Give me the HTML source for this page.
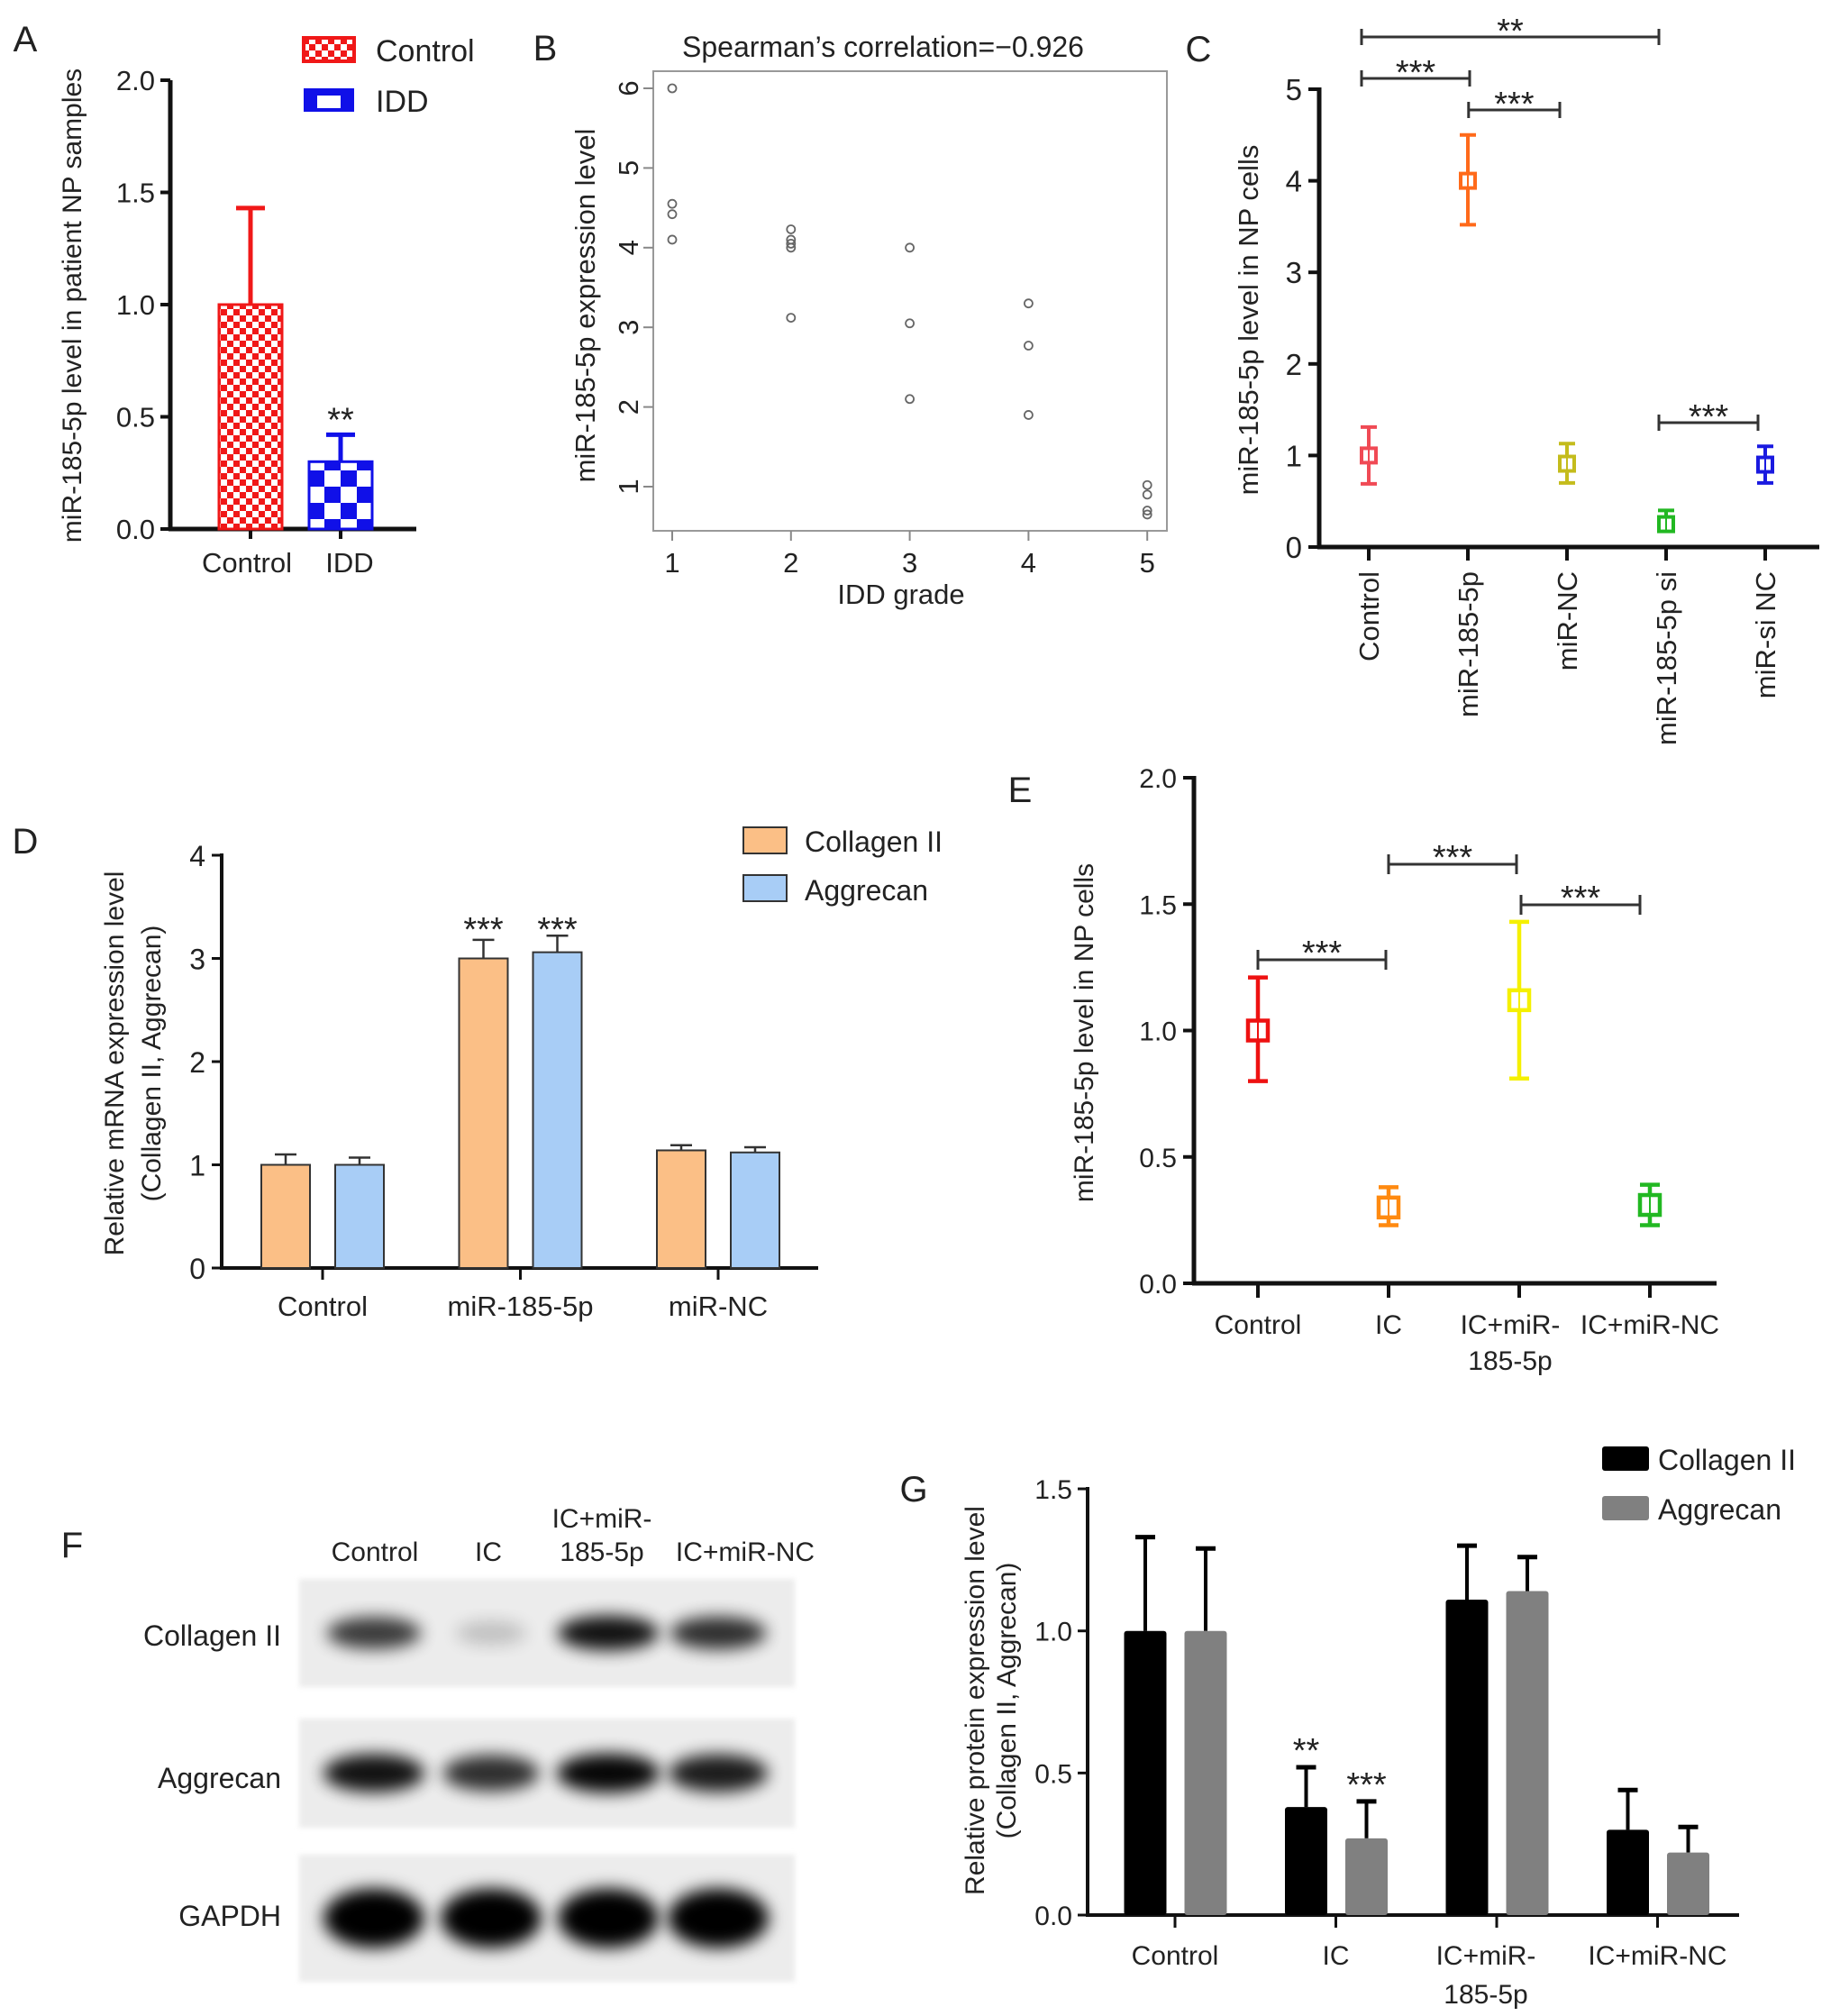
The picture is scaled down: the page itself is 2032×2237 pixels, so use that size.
<!DOCTYPE html>
<html><head><meta charset="utf-8"><title>miR-185-5p figure</title>
<style>
html,body{margin:0;padding:0;background:#fff;}
svg{display:block;font-family:"Liberation Sans",Arial,sans-serif;}
text{fill:#222;}
</style></head>
<body>
<svg id="fig" xmlns="http://www.w3.org/2000/svg" width="2032" height="2237" viewBox="0 0 2032 2237">
<defs>
<pattern id="chkRed" width="14" height="14" patternUnits="userSpaceOnUse">
<rect width="14" height="14" fill="#fff"/><rect width="7" height="7" fill="#f01818"/><rect x="7" y="7" width="7" height="7" fill="#f01818"/>
</pattern>
<pattern id="chkBlue" width="36" height="36" patternUnits="userSpaceOnUse">
<rect width="36" height="36" fill="#fff"/><rect width="18" height="18" fill="#1010e8"/><rect x="18" y="18" width="18" height="18" fill="#1010e8"/>
</pattern>
<filter id="blur" x="-50%" y="-50%" width="200%" height="200%"><feGaussianBlur stdDeviation="9"/></filter>
<filter id="blur2" x="-20%" y="-20%" width="140%" height="140%"><feGaussianBlur stdDeviation="3"/></filter>
</defs>
<g id="root"></g>
</svg>
<script>
// ---------- DATA ----------
// Panel A
const aCats = ["Control","IDD"];
const aVals = [1.0, 0.30];
const aErr = [1.43, 0.42];
const aTicks = ["0.0","0.5","1.0","1.5","2.0"];
// Panel B
const bGrades = [1,1,1,1,2,2,2,2,2,3,3,3,4,4,4,5,5,5,5];
const bLevels = [6.0,4.55,4.42,4.1,4.23,4.1,4.05,4.0,3.12,4.0,3.05,2.1,3.3,2.77,1.9,1.02,0.9,0.7,0.65];
const bXTicks = [1,2,3,4,5];
const bYTicks = [1,2,3,4,5,6];
// Panel C
const cCats = ["Control","miR-185-5p","miR-NC","miR-185-5p si","miR-si NC"];
const cVals = [1.0,4.0,0.91,0.25,0.9];
const cLow = [0.69,3.52,0.7,0.18,0.7];
const cHigh = [1.31,4.5,1.13,0.4,1.1];
const cColors = ["#f04a55","#ff6a1a","#c4bc1c","#22b822","#1a1ae0"];
const cTicks = [0,1,2,3,4,5];
// Panel D
const dCats = ["Control","miR-185-5p","miR-NC"];
const dCol = [1.0,3.0,1.14];
const dColErr = [1.1,3.18,1.19];
const dAgg = [1.0,3.06,1.12];
const dAggErr = [1.07,3.22,1.17];
const dTicks = [0,1,2,3,4];
// Panel E
const eCats = [["Control"],["IC"],["IC+miR-","185-5p"],["IC+miR-NC"]];
const eVals = [1.0,0.3,1.12,0.31];
const eLow = [0.8,0.23,0.81,0.23];
const eHigh = [1.21,0.38,1.43,0.39];
const eColors = ["#ee1111","#ff8a10","#f5f000","#22b822"];
const eTicks = ["0.0","0.5","1.0","1.5","2.0"];
// Panel F band intensities (0..1)
const fRows = ["Collagen II","Aggrecan","GAPDH"];
const fCollagen = [0.75,0.18,0.92,0.8];
const fAggrecan = [0.92,0.8,0.97,0.88];
const fGapdh = [1,1,1,1];
// Panel G
const gCats = [["Control"],["IC"],["IC+miR-","185-5p"],["IC+miR-NC"]];
const gCol = [1.0,0.38,1.11,0.30];
const gColErr = [1.33,0.52,1.30,0.44];
const gAgg = [1.0,0.27,1.14,0.22];
const gAggErr = [1.29,0.40,1.26,0.31];
const gTicks = ["0.0","0.5","1.0","1.5"];

// ---------- HELPERS ----------
const NS = "http://www.w3.org/2000/svg";
const root = document.getElementById("root");
function mk(tag, attrs, parent){
  const e = document.createElementNS(NS, tag);
  for (const k in attrs) e.setAttribute(k, attrs[k]);
  (parent||root).appendChild(e);
  return e;
}
function txt(s, x, y, size, anchor, parent, extra){
  const a = Object.assign({x:x, y:y, "font-size":size, "text-anchor":anchor||"middle"}, extra||{});
  const t = mk("text", a, parent);
  t.textContent = s;
  return t;
}
function grp(parent){ return mk("g", {}, parent); }

// ---------- PANEL A ----------
(function(){
  const g = grp();
  
  
  const y = v => 587 - v*249;
  const x = i => 278 + i*100;
  const lbl = txt("A", 28, 57, 40, "middle", g);
  
  
  const yt = txt("miR-185-5p level in patient NP samples", 0, 0, 30, "middle", g, {transform:"translate(90,339) rotate(-90)"});
  
  
  const ax = mk("path", {d:"M189 89 V589 M187 587 H462", stroke:"#111", "stroke-width":5, fill:"none"}, g);
  
  
  aTicks.forEach((t,i)=>{
    const v = parseFloat(t);
    mk("line", {x1:178, x2:189, y1:y(v), y2:y(v), stroke:"#111", "stroke-width":4}, g);
    const tl = txt(t, 172, y(v)+11, 31, "end", g);
    
    
  });
  const fills = ["url(#chkRed)","url(#chkBlue)"];
  const cols = ["#f01818","#1010e8"];
  aCats.forEach((c,i)=>{
    mk("line", {x1:x(i), x2:x(i), y1:y(aVals[i]), y2:y(aErr[i]), stroke:cols[i], "stroke-width":5}, g);
    mk("line", {x1:x(i)-16, x2:x(i)+16, y1:y(aErr[i]), y2:y(aErr[i]), stroke:cols[i], "stroke-width":5}, g);
    const b = mk("rect", {x:x(i)-35, y:y(aVals[i]), width:70, height:y(0)-y(aVals[i]), fill:fills[i], stroke:cols[i], "stroke-width":3}, g);
    
    
    mk("line", {x1:x(i), x2:x(i), y1:589, y2:598, stroke:"#111", "stroke-width":4}, g);
    const xl = txt(c, x(i)+(i===0?-4:10), 635, 31, "middle", g);
    
    
  });
  const st = txt("**", x(1), y(aErr[1])-4, 38, "middle", g);
  
  
  // legend
  const lg = grp(g);
  
  
  mk("rect", {x:337, y:42, width:56, height:26, fill:"url(#chkRed)", stroke:"#f01818", "stroke-width":4}, lg);
  mk("rect", {x:337, y:98, width:56, height:26, fill:"#1010e8"}, lg);
  mk("rect", {x:352, y:106, width:26, height:14, fill:"#fff"}, lg);
  const l1 = txt("Control", 417, 68, 34, "start", lg);
  
  
  const l2 = txt("IDD", 417, 124, 34, "start", lg);
  
  
})();

// ---------- PANEL B ----------
(function(){
  const g = grp();
  
  
  const x = v => 746 + (v-1)*131.8;
  const y = v => 540 - (v-1)*88.4;
  const lbl = txt("B", 605, 67, 40, "middle", g);
  
  
  const tt = txt("Spearman’s correlation=−0.926", 980, 63, 32, "middle", g);
  
  
  const bx = mk("rect", {x:725, y:79, width:570, height:510, fill:"none", stroke:"#999", "stroke-width":2}, g);
  
  
  bXTicks.forEach(t=>{
    mk("line", {x1:x(t), x2:x(t), y1:589, y2:600, stroke:"#888", "stroke-width":2}, g);
    const tl = txt(String(t), x(t), 635, 31, "middle", g);
    
    
  });
  bYTicks.forEach(t=>{
    mk("line", {x1:714, x2:725, y1:y(t), y2:y(t), stroke:"#888", "stroke-width":2}, g);
    const tl = txt(String(t), 0, 0, 31, "middle", g, {transform:`translate(708,${y(t)}) rotate(-90)`});
    
    
  });
  const xt = txt("IDD grade", 1000, 670, 31, "middle", g);
  
  
  const yt = txt("miR-185-5p expression level", 0, 0, 31, "middle", g, {transform:"translate(660,339) rotate(-90)"});
  
  
  bGrades.forEach((gr,i)=>{
    const p = mk("circle", {cx:x(gr), cy:y(bLevels[i]), r:4.5, fill:"none", stroke:"#666", "stroke-width":1.8}, g);
    
    
  });
})();

// ---------- PANEL C ----------
(function(){
  const g = grp();
  
  
  const y = v => 607 - v*101.6;
  const x = i => 1519 + i*110;
  const lbl = txt("C", 1330, 68, 40, "middle", g);
  
  
  const yt = txt("miR-185-5p level in NP cells", 0, 0, 31, "middle", g, {transform:"translate(1396,355) rotate(-90)"});
  
  
  const ax = mk("path", {d:"M1464 97 V609 M1462 607 H2019", stroke:"#111", "stroke-width":5, fill:"none"}, g);
  
  
  cTicks.forEach(t=>{
    mk("line", {x1:1452, x2:1464, y1:y(t), y2:y(t), stroke:"#111", "stroke-width":4}, g);
    const tl = txt(String(t), 1445, y(t)+12, 33, "end", g);
    
    
  });
  cCats.forEach((c,i)=>{
    mk("line", {x1:x(i), x2:x(i), y1:609, y2:622, stroke:"#111", "stroke-width":4}, g);
    const tl = txt(c, 0, 0, 31, "end", g, {transform:`translate(${x(i)+11},634) rotate(-90)`});
    
    
    const col = cColors[i];
    const eg = grp(g);
    
    
    mk("line", {x1:x(i), x2:x(i), y1:y(cLow[i]), y2:y(cHigh[i]), stroke:col, "stroke-width":4}, eg);
    mk("line", {x1:x(i)-9, x2:x(i)+9, y1:y(cLow[i]), y2:y(cLow[i]), stroke:col, "stroke-width":4}, eg);
    mk("line", {x1:x(i)-9, x2:x(i)+9, y1:y(cHigh[i]), y2:y(cHigh[i]), stroke:col, "stroke-width":4}, eg);
    mk("rect", {x:x(i)-8, y:y(cVals[i])-8, width:16, height:16, fill:"#fff", stroke:col, "stroke-width":4}, eg);
    mk("line", {x1:x(i), x2:x(i), y1:y(cVals[i])-8, y2:y(cVals[i])+8, stroke:col, "stroke-width":2}, eg);
  });
  const br = [[0,3,41,"**"],[0,1,87,"***"],[1.08,2,122,"***"],[3,4,469,"***"]];
  br.forEach(b=>{
    const x1 = x(b[0])-8, x2 = x(b[1])+(b[1]===1?2:-8);
    const bg = grp(g);
    
    
    mk("path", {d:`M${x1} ${b[2]-9} V${b[2]+9} M${x1} ${b[2]} H${x2} M${x2} ${b[2]-9} V${b[2]+9}`, stroke:"#333", "stroke-width":3, fill:"none"}, bg);
    txt(b[3], (x1+x2)/2, b[2]+6, 38, "middle", bg, {fill:"#444"});
  });
})();

// ---------- PANEL D ----------
(function(){
  const g = grp();
  
  
  const y = v => 1407 - v*114.5;
  const x = i => 358 + i*219.5;
  const lbl = txt("D", 28, 947, 40, "middle", g);
  
  
  const yt = txt("Relative mRNA expression level", 0, 0, 30, "middle", g, {transform:"translate(137,1180) rotate(-90)"});
  
  
  const yt2 = txt("(Collagen II,  Aggrecan)", 0, 0, 30, "middle", g, {transform:"translate(178,1180) rotate(-90)"});
  
  
  const ax = mk("path", {d:"M246 947 V1409 M244 1407 H908", stroke:"#111", "stroke-width":4, fill:"none"}, g);
  
  
  dTicks.forEach(t=>{
    mk("line", {x1:235, x2:246, y1:y(t), y2:y(t), stroke:"#111", "stroke-width":3}, g);
    const tl = txt(String(t), 228, y(t)+12, 32, "end", g);
    
    
  });
  dCats.forEach((c,i)=>{
    mk("line", {x1:x(i), x2:x(i), y1:1409, y2:1420, stroke:"#111", "stroke-width":3}, g);
    const tl = txt(c, x(i), 1460, 31, "middle", g);
    
    
    [[dCol,dColErr,-41,"#fbbf86","collagen"],[dAgg,dAggErr,41,"#a8cdf6","aggrecan"]].forEach(s=>{
      const cx = x(i)+s[2], v = s[0][i], e = s[1][i];
      mk("line", {x1:cx, x2:cx, y1:y(v), y2:y(e), stroke:"#333", "stroke-width":2.5}, g);
      mk("line", {x1:cx-12, x2:cx+12, y1:y(e), y2:y(e), stroke:"#333", "stroke-width":2.5}, g);
      const b = mk("rect", {x:cx-27, y:y(v), width:54, height:y(0)-y(v), fill:s[3], stroke:"#333", "stroke-width":2}, g);
      
      
    });
  });
  [x(1)-41, x(1)+41].forEach((cx,k)=>{
    const st = txt("***", cx, 1044, 38, "middle", g, {fill:"#444"});
    
    
  });
  const lg = grp(g);
  
  
  mk("rect", {x:825, y:918, width:48, height:29, fill:"#fbbf86", stroke:"#333", "stroke-width":2}, lg);
  mk("rect", {x:825, y:971, width:48, height:29, fill:"#a8cdf6", stroke:"#333", "stroke-width":2}, lg);
  const l1 = txt("Collagen II", 893, 945, 32, "start", lg);
  
  
  const l2 = txt("Aggrecan", 893, 999, 32, "start", lg);
  
  
})();

// ---------- PANEL E ----------
(function(){
  const g = grp();
  
  
  const y = v => 1424 - v*280.5;
  const x = i => 1396 + i*145;
  const lbl = txt("E", 1132, 890, 40, "middle", g);
  
  
  const yt = txt("miR-185-5p level in NP cells", 0, 0, 30, "middle", g, {transform:"translate(1213,1146) rotate(-90)"});
  
  
  const ax = mk("path", {d:"M1325 861 V1426 M1323 1424 H1905", stroke:"#111", "stroke-width":5, fill:"none"}, g);
  
  
  eTicks.forEach(t=>{
    const v = parseFloat(t);
    mk("line", {x1:1313, x2:1325, y1:y(v), y2:y(v), stroke:"#111", "stroke-width":4}, g);
    const tl = txt(t, 1306, y(v)+11, 30, "end", g);
    
    
  });
  eCats.forEach((c,i)=>{
    mk("line", {x1:x(i), x2:x(i), y1:1426, y2:1440, stroke:"#111", "stroke-width":4}, g);
    c.forEach((ln,k)=>{
      const tl = txt(ln, x(i)+(i===2?-10:0), 1480+k*40, 30, "middle", g);
      
      
    });
    const col = eColors[i];
    const eg = grp(g);
    
    
    mk("line", {x1:x(i), x2:x(i), y1:y(eLow[i]), y2:y(eHigh[i]), stroke:col, "stroke-width":4.5}, eg);
    mk("line", {x1:x(i)-11, x2:x(i)+11, y1:y(eLow[i]), y2:y(eLow[i]), stroke:col, "stroke-width":4.5}, eg);
    mk("line", {x1:x(i)-11, x2:x(i)+11, y1:y(eHigh[i]), y2:y(eHigh[i]), stroke:col, "stroke-width":4.5}, eg);
    mk("rect", {x:x(i)-11, y:y(eVals[i])-11, width:22, height:22, fill:"#fff", stroke:col, "stroke-width":4.5}, eg);
    mk("line", {x1:x(i), x2:x(i), y1:y(eVals[i])-11, y2:y(eVals[i])+11, stroke:col, "stroke-width":2}, eg);
  });
  const br = [[0,1,1065],[1,2,959],[2,3,1004]];
  br.forEach(b=>{
    const x1 = x(b[0])+ (b[0]===2?2:0), x2 = x(b[1]) - (b[1]===3?11:3);
    const bg = grp(g);
    
    
    mk("path", {d:`M${x1} ${b[2]-11} V${b[2]+11} M${x1} ${b[2]} H${x2} M${x2} ${b[2]-11} V${b[2]+11}`, stroke:"#333", "stroke-width":3, fill:"none"}, bg);
    txt("***", (x1+x2)/2, b[2]+5, 38, "middle", bg, {fill:"#444"});
  });
})();

// ---------- PANEL F ----------
(function(){
  const g = grp();
  
  
  const lanes = i => 415 + i*130;
  const lbl = txt("F", 80, 1728, 40, "middle", g);
  
  
  const heads = [["Control"],["IC"],["IC+miR-","185-5p"],["IC+miR-NC"]];
  const hx = [416,542,668,827];
  heads.forEach((h,i)=>{
    h.forEach((ln,k)=>{
      const t = txt(ln, hx[i], 1732 - (h.length-1-k)*37, 30, "middle", g);
      
      
    });
  });
  const rowsY = [[1752,1872],[1907,2028],[2058,2199]];
  const rowLabelY = [1826,1984,2137];
  const intens = [fCollagen, fAggrecan, fGapdh];
  const bandH = [32, 36, 58];
  const bandW = [58, 58, 56];
  fRows.forEach((r,ri)=>{
    const rg = grp(g);
    
    
    mk("rect", {x:332, y:rowsY[ri][0], width:550, height:rowsY[ri][1]-rowsY[ri][0], fill:"#ececec", filter:"url(#blur2)"}, rg);
    const mid = (rowsY[ri][0]+rowsY[ri][1])/2;
    intens[ri].forEach((v,i)=>{
      const b = mk("ellipse", {cx:lanes(i)+(i===3?-8:0), cy:mid, rx:bandW[ri]*(0.6+0.4*v), ry:bandH[ri]*(0.5+0.5*v)/2+4, fill:"#000", opacity:v, filter:"url(#blur)"}, rg);
      
      
    });
    const t = txt(r, 312, rowLabelY[ri], 32, "end", g);
    
    
  });
})();

// ---------- PANEL G ----------
(function(){
  const g = grp();
  
  
  const y = v => 2125 - v*315.3;
  const x = i => 1304 + i*178.5;
  const lbl = txt("G", 1014, 1666, 40, "middle", g);
  
  
  const yt = txt("Relative protein expression level", 0, 0, 30, "middle", g, {transform:"translate(1092,1887) rotate(-90)"});
  
  
  const yt2 = txt("(Collagen II,  Aggrecan)", 0, 0, 30, "middle", g, {transform:"translate(1127,1887) rotate(-90)"});
  
  
  const ax = mk("path", {d:"M1207 1650 V2127 M1205 2125 H1930", stroke:"#111", "stroke-width":4, fill:"none"}, g);
  
  
  gTicks.forEach(t=>{
    const v = parseFloat(t);
    mk("line", {x1:1196, x2:1207, y1:y(v), y2:y(v), stroke:"#111", "stroke-width":3}, g);
    const tl = txt(t, 1190, y(v)+11, 30, "end", g);
    
    
  });
  gCats.forEach((c,i)=>{
    mk("line", {x1:x(i), x2:x(i), y1:2127, y2:2139, stroke:"#111", "stroke-width":3}, g);
    c.forEach((ln,k)=>{
      const tl = txt(ln, x(i)-(i===2?12:0), 2180+k*43, 30, "middle", g);
      
      
    });
    [[gCol,gColErr,-33,"#000","collagen"],[gAgg,gAggErr,34,"#808080","aggrecan"]].forEach(s=>{
      const cx = x(i)+s[2], v = s[0][i], e = s[1][i];
      mk("line", {x1:cx, x2:cx, y1:y(v), y2:y(e), stroke:"#000", "stroke-width":4}, g);
      mk("line", {x1:cx-11, x2:cx+11, y1:y(e), y2:y(e), stroke:"#000", "stroke-width":5}, g);
      const b = mk("rect", {x:cx-23.5, y:y(v), width:47, height:y(0)-y(v), fill:s[3], rx:3}, g);
      
      
    });
  });
  const s1 = txt("**", x(1)-33, y(gColErr[1])-6, 38, "middle", g, {fill:"#444"});
  
  
  const s2 = txt("***", x(1)+34, y(gAggErr[1])-6, 38, "middle", g, {fill:"#444"});
  
  
  const lg = grp(g);
  
  
  mk("rect", {x:1778, y:1605, width:52, height:27, fill:"#000", rx:3}, lg);
  mk("rect", {x:1778, y:1660, width:52, height:27, fill:"#808080", rx:3}, lg);
  const l1 = txt("Collagen II", 1840, 1631, 32, "start", lg);
  
  
  const l2 = txt("Aggrecan", 1840, 1686, 32, "start", lg);
  
  
})();
</script>
</body></html>
